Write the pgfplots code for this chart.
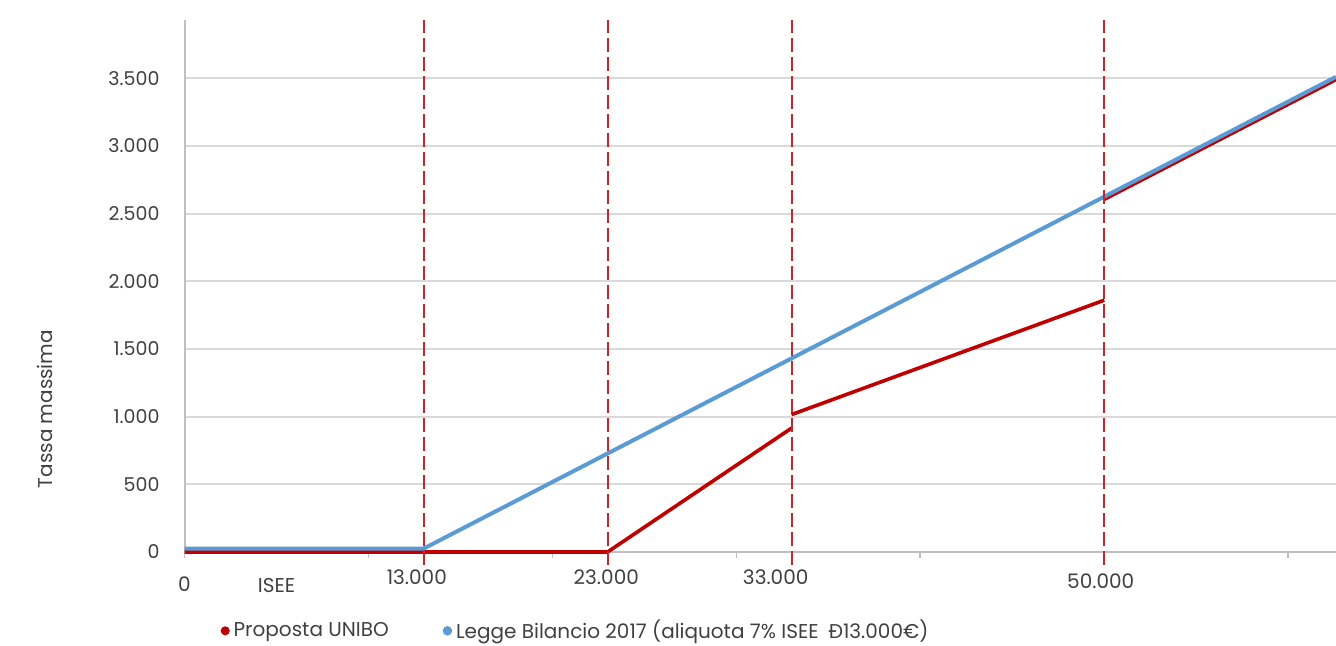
\documentclass[border=0pt]{standalone}
\usepackage{fontspec}
\setmainfont{Poppins}
\usepackage{pgfplots}
\pgfplotsset{compat=1.18}
\definecolor{cred}{HTML}{C00000}
\definecolor{cdash}{HTML}{C8262B}
\definecolor{cblue}{HTML}{5B9BD5}
\definecolor{cgrid}{HTML}{D9D9D9}
\definecolor{caxis}{HTML}{BFBFBF}
\definecolor{ctext}{HTML}{404040}
\begin{document}
\begin{tikzpicture}[x=1pt,y=1pt]
\path[use as bounding box] (0,0) rectangle (668,323);
\begin{axis}[
  at={(92.25pt,47pt)}, anchor=south west,
  scale only axis, width=575.75pt, height=266pt,
  xmin=0, xmax=62600, ymin=0, ymax=3930,
  clip=false,
  scaled x ticks=false,
  axis x line=bottom, axis y line=left,
  axis line style={-, draw=caxis, line width=1pt},
  xtick={0,10000,20000,30000,40000,50000,60000}, xticklabels={},
  ytick={0,500,...,3500},
  ymajorgrids, grid style={cgrid, line width=1pt},
  tick align=outside, major tick length=3pt,
  x tick style={draw=caxis, line width=0.8pt},
  y tick style={draw=none},
  yticklabel style={font=\fontsize{9.5}{11}\selectfont, text=ctext, xshift=-6pt},
  /pgf/number format/.cd, 1000 sep={.}, assume math mode=true,
  /pgfplots/.cd,
  legend style={draw=none, fill=none, at={(axis description cs:0.026,-0.112)}, anchor=north west,
    font=\fontsize{10}{12}\selectfont, text=ctext,
    /tikz/every even column/.append style={column sep=25pt}},
  legend columns=2,
  legend image code/.code={\fill (0.35em,0pt) circle (1.3pt);},
]
\addplot[cred, line width=1.8pt, unbounded coords=jump] coordinates {
  (0,0) (23000,0) (33000,915) (33000,nan) (33000,1015) (50000,1860)
  (50000,nan) (50000,2605) (62600,3490)};
\addlegendentry{Proposta UNIBO}
\addplot[cblue, line width=2pt] coordinates {(0,25) (13000,25) (62600,3510)};
\addlegendentry{Legge Bilancio 2017 (aliquota 7\% ISEE\enspace Ð13.000€)}
\addplot[cdash, line width=1pt, dash pattern=on 7pt off 2.5pt, forget plot] coordinates {(13000,-95) (13000,3930)};
\addplot[cdash, line width=1pt, dash pattern=on 7pt off 2.5pt, forget plot] coordinates {(23000,-95) (23000,3930)};
\addplot[cdash, line width=1pt, dash pattern=on 7pt off 2.5pt, forget plot] coordinates {(33000,-95) (33000,3930)};
\addplot[cdash, line width=1pt, dash pattern=on 7pt off 2.5pt, forget plot] coordinates {(50000,-95) (50000,3930)};
\begin{scope}[every node/.style={font=\fontsize{10}{12}\selectfont, text=ctext}]
\node at (axis cs:0,-236) {0};
\node at (axis cs:5000,-251) {ISEE};
\node at (axis cs:12630,-185) {13.000};
\node at (axis cs:22930,-185) {23.000};
\node at (axis cs:32140,-185) {33.000};
\node at (axis cs:49810,-214) {50.000};
\node[rotate=90] at (axis cs:-7590,1056) {Tassa massima};
\end{scope}
\end{axis}
\end{tikzpicture}
\end{document}
